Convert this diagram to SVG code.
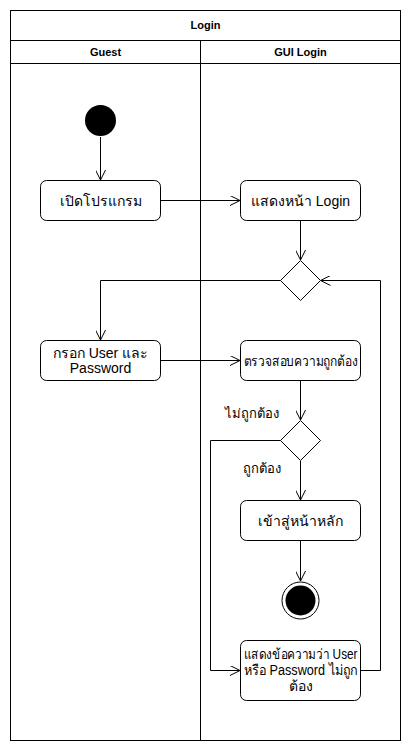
<svg xmlns="http://www.w3.org/2000/svg" width="411" height="751" viewBox="0 0 411 751">
<style>
.lane{fill:none;stroke:#000;stroke-width:1}
.hdr{font-family:"Liberation Sans",Arial,sans-serif;font-size:11px;font-weight:bold;text-anchor:middle;fill:#000}
.box{fill:#fff;stroke:#000;stroke-width:1}
.t{font-family:"Liberation Sans",Arial,sans-serif;font-size:14px;text-anchor:middle;fill:#000}
.lbl{font-family:"Liberation Sans",Arial,sans-serif;font-size:13px;fill:#000}
.c{fill:none;stroke:#000;stroke-width:1;marker-end:url(#a)}
</style>
<defs>
<marker id="a" viewBox="0 0 10 10" refX="10" refY="5" markerWidth="10" markerHeight="10" markerUnits="userSpaceOnUse" orient="auto">
<path d="M0,0 L10,5 L0,10" fill="none" stroke="#000" stroke-width="1"/>
</marker>
</defs>
<rect width="411" height="751" fill="#fff"/>
<g id="pool">
<rect class="lane" x="10.5" y="10.5" width="390" height="730"/>
<line class="lane" x1="10.5" y1="40.5" x2="400.5" y2="40.5"/>
<line class="lane" x1="10.5" y1="63.5" x2="400.5" y2="63.5"/>
<line class="lane" x1="200.5" y1="40.5" x2="200.5" y2="740.5"/>
<text class="hdr" x="205.5" y="29">Login</text>
<text class="hdr" x="105.5" y="56">Guest</text>
<text class="hdr" x="300.5" y="56">GUI Login</text>
</g>
<g id="connectors">
<path class="c" d="M100.5,137 L100.5,180"/>
<path class="c" d="M160.5,200.5 L240,200.5"/>
<path class="c" d="M300.5,220.5 L300.5,260"/>
<path class="c" d="M280.5,280.5 L100.5,280.5 L100.5,340"/>
<path class="c" d="M160.5,360.5 L240,360.5"/>
<path class="c" d="M300.5,380.5 L300.5,420"/>
<path class="c" d="M300.5,460.5 L300.5,500"/>
<path class="c" d="M280.5,440.5 L210.5,440.5 L210.5,670.5 L240,670.5"/>
<path class="c" d="M300.5,540.5 L300.5,581"/>
<path class="c" d="M360.5,670.5 L380.5,670.5 L380.5,280.5 L320.5,280.5"/>
<text class="lbl" x="225" y="418">ไม่ถูกต้อง</text>
<text class="lbl" x="243" y="473">ถูกต้อง</text>
</g>
<g id="start"><circle cx="100.5" cy="120.5" r="15.5" fill="#000"/></g>
<g id="open"><rect class="box" x="40.5" y="180.5" width="120" height="40" rx="6"/><text class="t" x="100.5" y="205.5">เปิดโปรแกรม</text></g>
<g id="showLogin"><rect class="box" x="240.5" y="180.5" width="120" height="40" rx="6"/><text class="t" x="300.5" y="205.5">แสดงหน้า Login</text></g>
<g id="merge"><path class="box" d="M300.5,260.5 L320.5,280.5 L300.5,300.5 L280.5,280.5 Z"/></g>
<g id="enter"><rect class="box" x="40.5" y="340.5" width="120" height="40" rx="6"/><text class="t" x="100.5" y="358">กรอก User และ</text><text class="t" x="100.5" y="373">Password</text></g>
<g id="check"><rect class="box" x="240.5" y="340.5" width="120" height="40" rx="6"/><text class="t" x="300.5" y="365.5" textLength="114" lengthAdjust="spacingAndGlyphs">ตรวจสอบความถูกต้อง</text></g>
<g id="decision"><path class="box" d="M300.5,420.5 L320.5,440.5 L300.5,460.5 L280.5,440.5 Z"/></g>
<g id="main"><rect class="box" x="240.5" y="500.5" width="120" height="40" rx="6"/><text class="t" x="300.5" y="525.5">เข้าสู่หน้าหลัก</text></g>
<g id="end"><circle cx="300.5" cy="600.5" r="18.5" fill="#fff" stroke="#000" stroke-width="1"/><circle cx="300.5" cy="600.5" r="15" fill="#000"/></g>
<g id="error"><rect class="box" x="240.5" y="640.5" width="120" height="60" rx="6"/><text class="t" x="300.5" y="659" textLength="114" lengthAdjust="spacingAndGlyphs">แสดงข้อความว่า User</text><text class="t" x="300.5" y="675" textLength="114" lengthAdjust="spacingAndGlyphs">หรือ Password ไม่ถูก</text><text class="t" x="300.5" y="691">ต้อง</text></g>
</svg>
